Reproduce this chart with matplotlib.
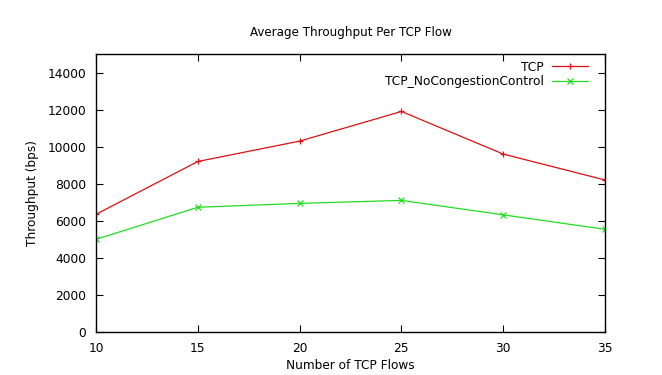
import matplotlib
matplotlib.use("Agg")
import matplotlib.pyplot as plt

flows = [10, 15, 20, 25, 30, 35]
tcp = [6350, 9200, 10300, 11900, 9600, 8200]
tcp_nocc = [5000, 6730, 6940, 7100, 6320, 5540]
xticks = [10, 15, 20, 25, 30, 35]
yticks = [0, 2000, 4000, 6000, 8000, 10000, 12000, 14000]

plt.rcParams['font.family'] = ['DejaVu Sans']
fig = plt.figure(figsize=(6.62, 3.75), dpi=100)
ax = fig.add_axes([0.145, 0.1147, 0.769, 0.7413])

ax.plot(flows, tcp, color='#dd1111', lw=0.9, marker='+', ms=5, mew=0.9, label='TCP')
ax.plot(flows, tcp_nocc, color='#22dd22', lw=0.9, marker='x', ms=4.5, mew=0.9, label='TCP_NoCongestionControl')

ax.set_xlim(10, 35)
ax.set_ylim(0, 15000)
ax.set_xticks(xticks)
ax.set_yticks(yticks)
ax.tick_params(direction='in', length=5, width=0.8, labelsize=8.8, top=True, right=True, pad=7, colors='black')
for s in ax.spines.values():
    s.set_linewidth(1.0)

ax.set_title('Average Throughput Per TCP Flow', fontsize=8.6, pad=13)
ax.set_xlabel('Number of TCP Flows', fontsize=8.7, labelpad=3)
ax.set_ylabel('Throughput (bps)', fontsize=8.7, labelpad=6)

leg = ax.legend(loc='upper right', frameon=False, markerfirst=False, fontsize=8.8,
                handlelength=3.0, labelspacing=0.15, borderaxespad=0.0,
                bbox_to_anchor=(0.972, 0.985), handletextpad=0.65, borderpad=0.2)
for t in leg.get_texts():
    t.set_ha('right')
leg._legend_box.align = 'right'

fig.savefig('out.png', dpi=100)
